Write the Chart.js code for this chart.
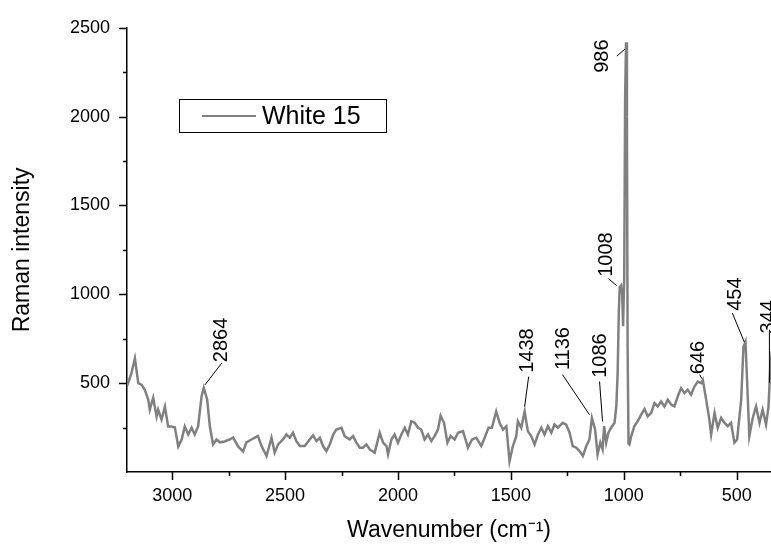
<!DOCTYPE html>
<html>
<head>
<meta charset="utf-8">
<script src="https://cdn.jsdelivr.net/npm/chart.js@4.4.0/dist/chart.umd.min.js"></script>
<style>
  html, body { margin: 0; padding: 0; background: #fff; }
  #wrap { width: 771px; height: 545px; }
</style>
</head>
<body>
<div id="wrap"><canvas id="ramanChart" width="771" height="545"></canvas></div>
<script>
// spectrum (wavenumber in cm-1, intensity in counts)
const wavenumbers = [
  3209, 3195, 3180, 3165, 3150, 3135, 3121, 3106, 3099, 3084, 3069, 3062, 3047, 3032, 3018, 3003,
  2988, 2973, 2958, 2944, 2929, 2914, 2900, 2885, 2870, 2860, 2845, 2833, 2819, 2804, 2789, 2767,
  2745, 2730, 2708, 2686, 2671, 2649, 2634, 2620, 2604, 2582, 2560, 2546, 2531, 2509, 2494, 2479,
  2465, 2450, 2435, 2413, 2391, 2376, 2361, 2346, 2332, 2317, 2302, 2287, 2273, 2250, 2236, 2214,
  2199, 2184, 2169, 2155, 2140, 2125, 2103, 2081, 2066, 2051, 2044, 2029, 2015, 2000, 1985, 1970,
  1956, 1941, 1926, 1911, 1897, 1882, 1867, 1852, 1838, 1823, 1811, 1796, 1781, 1767, 1749, 1734,
  1712, 1690, 1672, 1653, 1631, 1616, 1599, 1584, 1565, 1550, 1535, 1520, 1506, 1491, 1476, 1469,
  1454, 1439, 1425, 1410, 1395, 1380, 1365, 1351, 1336, 1321, 1307, 1292, 1270, 1255, 1240, 1226,
  1211, 1196, 1181, 1166, 1152, 1141, 1127, 1116, 1104, 1094, 1087, 1078, 1068, 1056, 1041, 1033,
  1027, 1022, 1018, 1012, 1007, 1003, 998, 994, 990, 986, 983, 979, 975, 967, 953, 938,
  923, 908, 894, 879, 864, 850, 835, 820, 805, 790, 776, 761, 746, 731, 717, 702,
  687, 672, 657, 650, 635, 621, 613, 598, 584, 569, 554, 540, 525, 510, 498, 480,
  470, 461, 454, 444, 429, 414, 399, 385, 370, 359, 351, 344
];
const intensities = [
  460, 500, 558, 640, 500, 490, 463, 407, 351, 418, 312, 351, 295, 368, 256, 256,
  250, 144, 183, 256, 211, 250, 211, 256, 424, 474, 407, 256, 155, 183, 167, 172,
  183, 194, 144, 116, 167, 183, 193, 202, 146, 90, 193, 109, 155, 183, 211, 193,
  221, 174, 146, 146, 183, 206, 174, 193, 146, 118, 155, 211, 239, 249, 202, 183,
  202, 165, 137, 137, 155, 127, 109, 221, 165, 146, 99, 183, 211, 165, 211, 249,
  211, 286, 277, 249, 239, 183, 211, 174, 202, 239, 317, 277, 165, 202, 183, 221,
  230, 137, 183, 193, 146, 193, 249, 249, 341, 277, 239, 258, 60, 146, 202, 286,
  249, 341, 230, 202, 155, 211, 249, 211, 258, 221, 267, 249, 277, 267, 221, 146,
  137, 118, 90, 146, 183, 304, 239, 99, 165, 127, 258, 165, 221, 249, 277, 370,
  560, 900, 1040, 1050, 1000, 820, 1100, 2100, 2418, 2000, 700, 160, 155, 202, 258, 286,
  323, 355, 313, 332, 388, 369, 397, 369, 407, 379, 369, 425, 472, 444, 463, 435,
  481, 509, 500, 518, 407, 295, 211, 332, 249, 304, 277, 258, 277, 165, 183, 407,
  705, 733, 518, 202, 304, 369, 277, 351, 267, 369, 593, 680
];

const xTickValues = [3000, 2500, 2000, 1500, 1000, 500];
const xMinorValues = [2750, 2250, 1750, 1250, 750];
const yTickValues = [500, 1000, 1500, 2000, 2500];
const yMinorValues = [250, 750, 1250, 1750, 2250];

// peak labels and the point each leader line starts from
const peakLabels = ['2864', '1438', '1136', '1086', '1008', '986', '646', '454', '344'];
const peakAnchorX = [2855, 1439, 1152, 1094, 1032, 995, 655, 466, 355];
const peakAnchorY = [490, 368, 323, 284, 1049, 2380, 526, 731, 502];

// pixel offsets from the anchor: leader end (lx, ly) and text centre (tx, ty)
const peakLayout = [
  { lx: 17, ly: -22, tx: 16, ty: -45 },
  { lx: 4, ly: -30, tx: 2, ty: -56 },
  { lx: -27, ly: -40, tx: -27, ty: -66 },
  { lx: -3, ly: -40, tx: -3, ty: -66 },
  { lx: -8, ly: -7, tx: -11, ty: -31 },
  { lx: -8, ly: 7, tx: -23, ty: 7 },
  { lx: -2, ly: -4, tx: -4, ty: -21 },
  { lx: -12, ly: -29, tx: -10, ty: -48 },
  { lx: 0, ly: -53, tx: -2, ty: -66 }
];

const FONT = '"Liberation Sans", Arial, sans-serif';

// tick marks: long for labelled values, short for the ones between
const tickMarks = {
  id: 'tickMarks',
  afterDraw(chart) {
    const { ctx, scales: { x, y }, chartArea } = chart;
    ctx.save();
    ctx.strokeStyle = '#000';
    ctx.lineWidth = 1.5;
    ctx.beginPath();
    const xt = (v, len) => {
      const px = Math.round(x.getPixelForValue(v)) + 0.5;
      ctx.moveTo(px, chartArea.bottom);
      ctx.lineTo(px, chartArea.bottom + len);
    };
    const yt = (v, len) => {
      const py = Math.round(y.getPixelForValue(v)) + 0.5;
      ctx.moveTo(chartArea.left, py);
      ctx.lineTo(chartArea.left - len, py);
    };
    xTickValues.forEach(v => xt(v, 8));
    xMinorValues.forEach(v => xt(v, 4));
    yTickValues.forEach(v => yt(v, 8));
    yMinorValues.forEach(v => yt(v, 4));
    ctx.stroke();
    ctx.restore();
  }
};

// rotated peak labels with their leader lines
const peakNotes = {
  id: 'peakNotes',
  afterDatasetsDraw(chart) {
    const { ctx, scales: { x, y } } = chart;
    ctx.save();
    ctx.strokeStyle = '#000';
    ctx.lineWidth = 1;
    ctx.fillStyle = '#000';
    ctx.font = '20px ' + FONT;
    ctx.textAlign = 'center';
    ctx.textBaseline = 'middle';
    peakLabels.forEach((label, i) => {
      const ax = x.getPixelForValue(peakAnchorX[i]);
      const ay = y.getPixelForValue(peakAnchorY[i]);
      const l = peakLayout[i];
      ctx.beginPath();
      ctx.moveTo(ax, ay);
      ctx.lineTo(ax + l.lx, ay + l.ly);
      ctx.stroke();
      ctx.save();
      ctx.translate(ax + l.tx, ay + l.ty);
      ctx.rotate(-Math.PI / 2);
      ctx.fillText(label, 0, 1);
      ctx.restore();
    });
    ctx.restore();
  }
};

// boxed legend in the upper left of the plot
const boxLegend = {
  id: 'boxLegend',
  afterDraw(chart) {
    const { ctx } = chart;
    const ds = chart.data.datasets[0];
    ctx.save();
    ctx.strokeStyle = '#000';
    ctx.lineWidth = 1;
    ctx.strokeRect(179.5, 99.5, 207, 33);
    ctx.strokeStyle = ds.borderColor;
    ctx.lineWidth = 2;
    ctx.beginPath();
    ctx.moveTo(202, 116);
    ctx.lineTo(256, 116);
    ctx.stroke();
    ctx.fillStyle = '#000';
    ctx.font = '25px ' + FONT;
    ctx.textBaseline = 'middle';
    ctx.fillText(ds.label, 262, 117);
    ctx.restore();
  }
};

const points = wavenumbers.map((w, i) => ({ x: w, y: intensities[i] }));

new Chart(document.getElementById('ramanChart'), {
  type: 'line',
  data: {
    datasets: [{
      label: 'White 15',
      data: points,
      borderColor: '#808080',
      borderWidth: 2.5,
      pointRadius: 0,
      tension: 0
    }]
  },
  options: {
    responsive: false,
    animation: false,
    layout: { padding: { top: 25, right: 0, bottom: 0, left: 0 } },
    plugins: {
      legend: { display: false },
      tooltip: { enabled: false }
    },
    scales: {
      x: {
        type: 'linear',
        reverse: true,
        min: 348,
        max: 3200,
        afterBuildTicks: s => { s.ticks = xTickValues.map(v => ({ value: v })); },
        afterFit: s => { s.height = 73; },
        grid: { display: false, drawTicks: false },
        border: { display: true, color: '#000', width: 1.5 },
        ticks: {
          color: '#000',
          padding: 13,
          maxRotation: 0,
          font: { family: FONT, size: 18 },
          callback: v => String(v)
        },
        title: {
          display: true,
          text: 'Wavenumber (cm⁻¹)',
          color: '#000',
          font: { family: FONT, size: 23 },
          padding: { top: 0, bottom: 1 }
        }
      },
      y: {
        min: 0,
        max: 2500,
        afterBuildTicks: s => { s.ticks = yTickValues.map(v => ({ value: v })); },
        afterFit: s => { s.width = 127; },
        grid: { display: false, drawTicks: false },
        border: { display: true, color: '#000', width: 1.5 },
        ticks: {
          color: '#000',
          padding: 17,
          font: { family: FONT, size: 18 },
          callback: v => String(v)
        },
        title: {
          display: true,
          text: 'Raman intensity',
          color: '#000',
          font: { family: FONT, size: 23 },
          padding: { top: 9, bottom: 0 }
        }
      }
    }
  },
  plugins: [tickMarks, peakNotes, boxLegend]
});
</script>
</body>
</html>
